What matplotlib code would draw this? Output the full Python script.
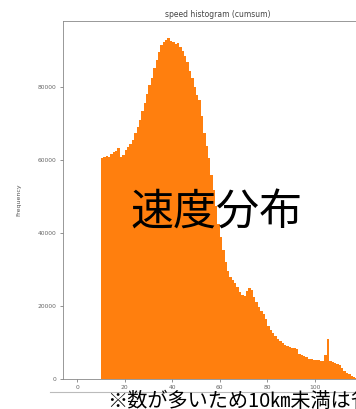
import numpy as np
import matplotlib
matplotlib.use("Agg")
import matplotlib.pyplot as plt

# speed bins (km/h, 1 km/h wide), counts below 10 km/h were dropped
bin_start = list(range(10, 118))
counts = [
    60500, 60800, 61200, 61000, 61800, 62300, 62600, 63300, 60800, 61500,  # 10-19
    62800, 63500, 64500, 65500, 67500, 69000, 71000, 73500, 75800, 78200,  # 20-29
    80500, 82600, 85400, 87500, 89800, 91600, 92300, 93000, 93500, 92800,  # 30-39
    92400, 91800, 92200, 91000, 90000, 88600, 86900, 84500, 82500, 80000,  # 40-49
    78000, 76500, 72000, 67500, 64000, 60500, 56000, 51700, 47500, 42500,  # 50-59
    39000, 35500, 32000, 29500, 28000, 27200, 26400, 25200, 23800, 23000,  # 60-69
    22800, 24000, 25000, 24300, 22600, 21000, 19800, 18600, 17900, 16500,  # 70-79
    14500, 13500, 12500, 11800, 11000, 10400, 9900, 9400, 9000, 8700,      # 80-89
    8500, 8600, 8300, 6900, 6500, 6200, 5900, 5600, 5500, 5300,            # 90-99
    5200, 5100, 5000, 4900, 6500, 11000, 5000, 4700, 4500, 4100,           # 100-109
    3700, 3000, 2200, 1700, 1300, 900, 500, 300,                           # 110-117
]

x_ticks = [0, 20, 40, 60, 80, 100, 120]
y_ticks = [0, 20000, 40000, 60000, 80000]

fig = plt.figure(figsize=(3.56, 4.09), dpi=100)
ax = fig.add_axes([0.177, 0.0735, 0.868, 0.8752])

ax.bar(bin_start, counts, width=1.0, align="edge", color="#ff7f0e", linewidth=0)
ax.set_xlim(-5.9, 124)
ax.set_ylim(0, max(counts) * 1.05)
ax.set_xticks(x_ticks)
ax.set_yticks(y_ticks)

ax.tick_params(labelsize=4.3, colors="#666666", length=2.5, width=0.5, pad=2)
for s in ax.spines.values():
    s.set_color("#888888")
    s.set_linewidth(0.6)

ax.set_title("speed histogram (cumsum)", fontsize=5.5, color="#444444", pad=3)
ax.set_ylabel("Frequency", fontsize=4.5, color="#555555", labelpad=12)

jp = ["Noto Sans CJK JP", "DejaVu Sans"]
fig.text(0.608, 0.477, "速度分布", family=jp, fontsize=31, color="black",
         ha="center", va="center")

# separator under the chart and the footnote (runs past the right edge)
fig.add_artist(plt.Line2D([0.14, 1.0], [0.042, 0.042], color="#bbbbbb", linewidth=0.8))
fig.text(0.301, 0.0185, "※数が多いため10㎞未満は省略", family=jp, fontsize=14.5,
         color="black", ha="left", va="center")

fig.savefig("out.png", dpi=100)
